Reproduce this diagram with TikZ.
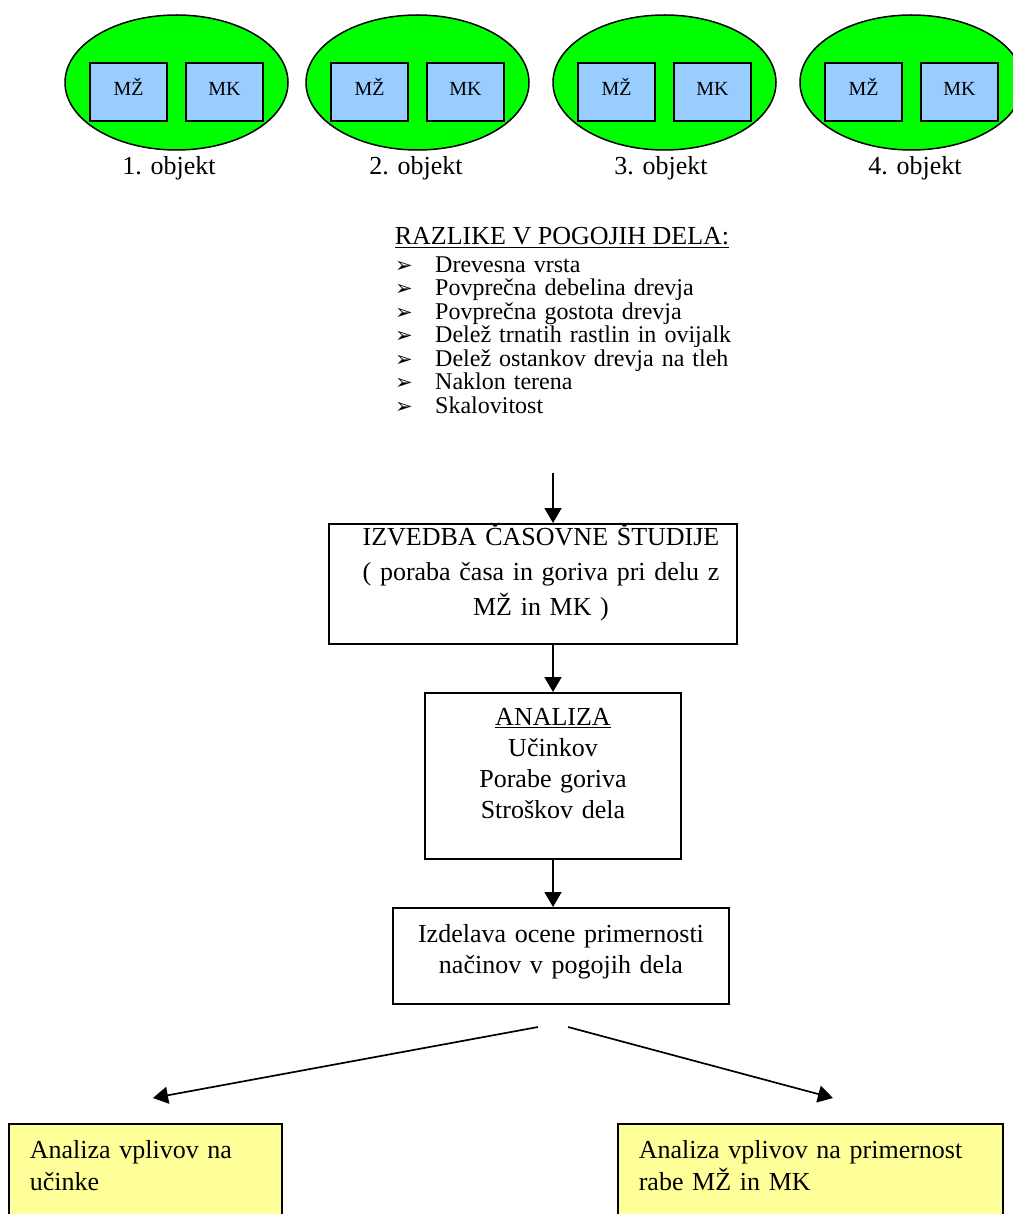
\documentclass[tikz,border=0pt]{standalone}
\usepackage{fontspec}
\setmainfont{Liberation Serif}
\newfontfamily\symfont{DejaVu Sans}
\usepackage{tikz}
\usetikzlibrary{arrows.meta,positioning,shapes.geometric}
\definecolor{objgreen}{HTML}{00FF00}
\definecolor{machblue}{HTML}{99CCFF}
\definecolor{notey}{HTML}{FFFF99}
\newcommand{\bul}{\makebox[40pt][l]{\symfont\fontsize{21}{21}\selectfont ➢}}
\tikzset{
  obj/.style={ellipse, draw, line width=1.5pt, fill=objgreen, minimum width=223pt, minimum height=135pt},
  mach/.style={draw, line width=1.6pt, fill=machblue, minimum width=77pt, minimum height=58pt,
               inner sep=0pt, text height=13pt, text depth=6pt, font=\fontsize{20}{24}\selectfont},
  olabel/.style={anchor=base, inner sep=0pt, font=\fontsize{26}{30}\selectfont},
  frame/.style={draw, line width=1.6pt, anchor=north, inner xsep=4pt, inner ysep=0pt, align=center,
                font=\fontsize{26}{31}\selectfont},
  note/.style={draw, line width=1.6pt, fill=notey, anchor=north west, inner xsep=21pt, inner ysep=0pt,
               align=left, text height=35pt, text depth=120pt, font=\fontsize{26}{32}\selectfont},
  arr/.style={-{Triangle[length=15pt, width=17pt]}, line width=1.7pt}
}
\begin{document}
\begin{tikzpicture}[x=1pt, y=-1pt]
  \useasboundingbox (0,0) rectangle (1012,1214);
  % objekti
  \node[obj] (o1) at (176.5,82.5) {};
  \node[mach] (mz1) at (128.5,92) {MŽ};
  \node[mach] (mk1) at (224.5,92) {MK};
  \node[olabel] (l1) at (169,175) {1. objekt};
  \node[obj] (o2) at (417.5,82.5) {};
  \node[mach] (mz2) at (369.5,92) {MŽ};
  \node[mach] (mk2) at (465.5,92) {MK};
  \node[olabel] (l2) at (416,175) {2. objekt};
  \node[obj] (o3) at (664.5,82.5) {};
  \node[mach] (mz3) at (616.5,92) {MŽ};
  \node[mach] (mk3) at (712.5,92) {MK};
  \node[olabel] (l3) at (661,175) {3. objekt};
  \node[obj] (o4) at (911.5,82.5) {};
  \node[mach] (mz4) at (863.5,92) {MŽ};
  \node[mach] (mk4) at (959.5,92) {MK};
  \node[olabel] (l4) at (915,175) {4. objekt};
  % pogoji dela
  \node[olabel] (head) at (562,245) {\underline{RAZLIKE V POGOJIH DELA:}};
  \node[anchor=north west, inner sep=0pt, align=left, text width=400pt, text height=17pt,
        font=\fontsize{24}{23.5}\selectfont] (cond) at (395,255)
    {\bul Drevesna vrsta\\ \bul Povprečna debelina drevja\\ \bul Povprečna gostota drevja\\
     \bul Delež trnatih rastlin in ovijalk\\ \bul Delež ostankov drevja na tleh\\
     \bul Naklon terena\\ \bul Skalovitost};
  \coordinate (in) at (553,473);
  % potek
  \node[frame, text width=400pt, text height=22pt, text depth=98pt] (izv) at (533,523)
    {\hspace*{16pt}IZVEDBA ČASOVNE ŠTUDIJE\\[4pt]\hspace*{16pt}( poraba časa in goriva pri delu z\\[4pt]\hspace*{16pt}MŽ in MK )};
  \node[frame, text width=248pt, text height=33pt, text depth=133pt] (ana) at (553,692)
    {\underline{ANALIZA}\\Učinkov\\Porabe goriva\\Stroškov dela};
  \node[frame, text width=328pt, text height=35pt, text depth=61pt] (izd) at (561,907)
    {Izdelava ocene primernosti\\načinov v pogojih dela};
  \draw[arr] (in) -- (in |- izv.north);
  \draw[arr] (ana.north |- izv.south) -- (ana.north);
  \draw[arr] (ana.south) -- (ana.south |- izd.north);
  % razcep
  \coordinate (sl) at (538,1027);
  \coordinate (sr) at (568,1027);
  \coordinate (tl) at (153,1098);
  \coordinate (tr) at (833,1098);
  \node[note, text width=231pt] (ul) at (8,1123) {Analiza vplivov na\\učinke};
  \node[note, text width=343pt] (ur) at (617,1123) {Analiza vplivov na primernost\\rabe MŽ in MK};
  \draw[arr] (sl) -- (tl);
  \draw[arr] (sr) -- (tr);
\end{tikzpicture}
\end{document}
